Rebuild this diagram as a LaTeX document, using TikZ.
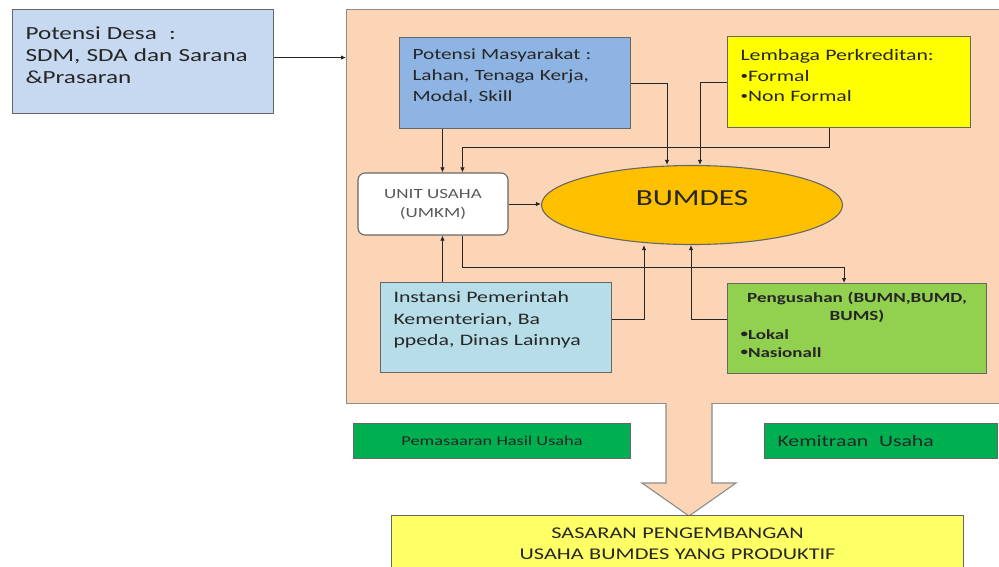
\documentclass[tikz,border=0pt]{standalone}
\usepackage{fontspec}
\setmainfont{Carlito}[FakeStretch=1.36]
\usetikzlibrary{positioning,shapes.geometric,arrows.meta}
\definecolor{peach}{RGB}{251,213,181}
\definecolor{desablue}{RGB}{198,217,240}
\definecolor{pmblue}{RGB}{141,180,226}
\definecolor{insblue}{RGB}{183,221,232}
\definecolor{lemyellow}{RGB}{255,255,0}
\definecolor{bumorange}{RGB}{255,192,0}
\definecolor{pengreen}{RGB}{146,208,80}
\definecolor{darkgreen}{RGB}{0,176,80}
\definecolor{sasyellow}{RGB}{255,255,102}
\newcommand{\bul}{\raisebox{1.8pt}{\fontsize{11}{11}\selectfont•}}
\tikzset{
  panel/.style={draw=black!60,line width=1.1pt,anchor=north west,inner ysep=0pt,inner xsep=13pt,align=left,text=black!85},
  area/.style={draw=black!45,line width=1.1pt,fill=peach,anchor=north west,minimum width=664pt,minimum height=394pt},
  unitbox/.style={draw=black!60,line width=1.1pt,fill=white,rounded corners=7pt,minimum width=150pt,minimum height=62pt,align=center,text=black!65},
  bumbox/.style={ellipse,draw=black!60,line width=1.1pt,fill=bumorange,minimum width=301pt,minimum height=79pt,inner sep=0pt,text=black!85},
  link/.style={-{Latex[length=5pt,width=4.5pt]},line width=0.9pt,black!85},
  bigarrow/.style={fill=peach,draw=black!45,line width=1.1pt}
}
\begin{document}
\begin{tikzpicture}[x=1pt,y=-1pt]
\useasboundingbox (0,0) rectangle (999,566);
\clip (0,0) rectangle (999,566);

\node[area] (area) at (346,9) {};
\draw[bigarrow] (666,403) -- (666,483) -- (642,483) -- (689,516) -- (736,483) -- (712,483) -- (712,403);

\node[panel,fill=desablue,text width=235pt,text height=30pt,text depth=74pt,font=\fontsize{18.5}{22}\selectfont] (desa) at (12,9)
  {Potensi Desa\ \ :\\SDM, SDA dan Sarana\\\&Prasaran};

\node[panel,fill=pmblue,text width=205pt,text height=22pt,text depth=69pt,font=\fontsize{15.6}{21}\selectfont] (pm) at (399,37)
  {Potensi Masyarakat :\\Lahan, Tenaga Kerja,\\Modal, Skill};
\node[panel,fill=lemyellow,text width=217pt,text height=24pt,text depth=67pt,font=\fontsize{16}{20.5}\selectfont] (lem) at (727,36)
  {Lembaga Perkreditan:\\\bul Formal\\\bul Non Formal};

\node[unitbox,font=\fontsize{14}{19}\selectfont] (unit) at (433,204) {UNIT USAHA\\(UMKM)};
\node[bumbox,text height=15pt,text depth=14pt,font=\fontsize{23}{26}\selectfont] (bum) at (692,205) {BUMDES};

\node[panel,fill=insblue,text width=205pt,text height=20pt,text depth=70pt,font=\fontsize{16}{21.7}\selectfont] (ins) at (380,282)
  {Instansi Pemerintah\\Kementerian, Ba\\ppeda, Dinas Lainnya};
\node[panel,fill=pengreen,text width=233pt,text height=19pt,text depth=71pt,font=\bfseries\fontsize{14}{18.3}\selectfont] (pen) at (727,283)
  {{\centering Pengusahan (BUMN,BUMD,\\BUMS)\par}\bul Lokal\\\bul Nasionall};

\node[panel,fill=darkgreen,minimum width=277pt,minimum height=35pt,font=\fontsize{13.5}{16}\selectfont] (pem) at (353,423)
  {Pemasaaran Hasil Usaha};
\node[panel,fill=darkgreen,text width=207pt,minimum height=35pt,font=\fontsize{16}{19}\selectfont] (kem) at (764,423)
  {Kemitraan\ \ Usaha};

\node[panel,fill=sasyellow,align=center,text width=546pt,text height=22.5pt,text depth=67.5pt,font=\fontsize{16.4}{21.5}\selectfont] (sas) at (391,515)
  {SASARAN PENGEMBANGAN\\USAHA BUMDES YANG PRODUKTIF};

\coordinate (da) at ([yshift=4pt]desa.east);
\coordinate (ua) at ([xshift=85pt]unit.north west);
\coordinate (ub) at ([xshift=105pt]unit.north west);
\coordinate (la) at ([xshift=102pt]lem.south west);

\draw[link] (da) -- (da -| area.west);
\draw[link] (ua |- pm.south) -- (ua);
\draw[link] (la) -- ++(0,19) -| (ub);
\draw[link] (pm.east) -| ([xshift=-25pt]bum.north);
\draw[link] (lem.west) -| ([xshift=8pt]bum.north);
\draw[link] (unit.east) -- (unit.east -| bum.west);
\draw[link] (ua |- ins.north) -- (ua |- unit.south);
\draw[link] (ub |- unit.south) -- ++(0,32) -| ([xshift=-13pt]pen.north);
\draw[link] ([yshift=8pt]ins.east) -| ([xshift=-48pt]bum.south);
\draw[link] ([yshift=9pt]pen.west) -| ([xshift=-1pt]bum.south);
\end{tikzpicture}
\end{document}
